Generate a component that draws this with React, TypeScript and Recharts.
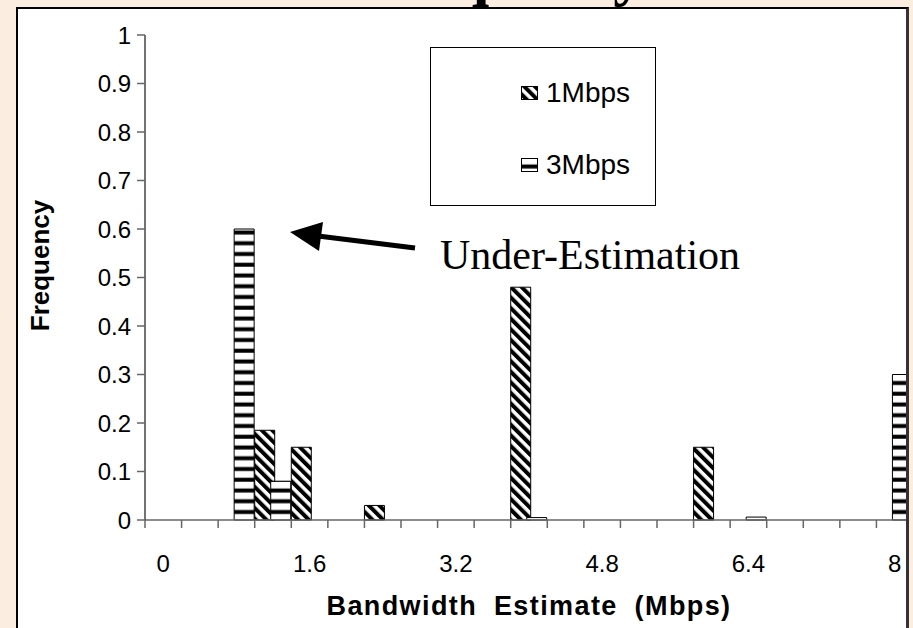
import { BarChart, Bar, XAxis, YAxis, Legend } from 'recharts'

// histogram bins (Mbps), width 0.4
const bins = ['0', '0.4', '0.8', '1.2', '1.6', '2', '2.4', '2.8', '3.2', '3.6', '4', '4.4', '4.8', '5.2', '5.6', '6', '6.4', '6.8', '7.2', '7.6', '8']
const freq1Mbps = [0, 0, 0, 0.185, 0.15, 0, 0.03, 0, 0, 0, 0.48, 0, 0, 0, 0, 0.15, 0, 0, 0, 0, 0]
const freq3Mbps = [0, 0, 0.6, 0.08, 0, 0, 0, 0, 0, 0, 0.005, 0, 0, 0, 0, 0, 0.006, 0, 0, 0, 0.3]
const yTicks = [0, 0.1, 0.2, 0.3, 0.4, 0.5, 0.6, 0.7, 0.8, 0.9, 1]
const labelEvery = 4

const data = bins.map((bin, i) => ({ bin, m1: freq1Mbps[i], m3: freq3Mbps[i] }))

const SANS = '"Liberation Sans", Arial, sans-serif'
const SERIF = '"Liberation Serif", "Times New Roman", serif'
const BEIGE = '#fbeee1'
const AXIS = '#666'

const CHART_W = 895
const CHART_H = 640
const Y_W = 127

function BinTick(props: any) {
  const { x, y, payload } = props
  const idx = props.index ?? payload.index ?? 0
  const half = payload.offset || (CHART_W - Y_W) / bins.length / 2
  return (
    <g>
      <line x1={x - half} x2={x - half} y1={y} y2={y + 8} stroke={AXIS} strokeWidth={1.5} />
      {idx % labelEvery === 0 && (
        <text x={x} y={y + 52} textAnchor="middle" fontSize={24} fontFamily={SANS} fill="#000">
          {payload.value}
        </text>
      )}
    </g>
  )
}

function YTitle(props: any) {
  const vb = props.viewBox || { x: 0, y: 26, width: Y_W, height: 485 }
  const cx = vb.x + 22
  const cy = vb.y + vb.height / 2 - 12
  return (
    <text x={cx} y={cy} transform={`rotate(-90 ${cx} ${cy})`} textAnchor="middle" dominantBaseline="central"
      fontFamily={SANS} fontSize={26} fontWeight="bold" fill="#000">
      Frequency
    </text>
  )
}

function LegendBox(props: any) {
  const items = props.payload || []
  return (
    <div style={{ position: 'relative', width: 226, height: 159, boxSizing: 'border-box', border: '1px solid #000', background: '#fff' }}>
      {items.map((it: any, i: number) => (
        <div key={it.value} style={{ position: 'absolute', left: 90, top: 29 + i * 72, height: 32, display: 'flex', alignItems: 'center', fontFamily: SANS, fontSize: 28, color: '#000' }}>
          <svg width={17} height={14} style={{ marginRight: 8 }}>
            <rect x={0.5} y={0.5} width={16} height={13} fill={it.color} stroke="#000" strokeWidth={1} />
          </svg>
          {it.value}
        </div>
      ))}
    </div>
  )
}

export default function App() {
  return (
    <div style={{ position: 'fixed', left: 0, top: 0, width: 913, height: 628, background: BEIGE, overflow: 'hidden' }}>
      <svg width={913} height={12} style={{ position: 'absolute', left: 0, top: 0 }}>
        <text x={363} y={-6} fontFamily={SERIF} fontWeight="bold" fontSize={62} fill="#000">Frequency</text>
      </svg>
      <div
        style={{
          position: 'absolute', left: 16, top: 7, width: 888, height: 640, background: '#fff',
          borderLeft: '2px solid #000', borderTop: '2px solid #000', borderRight: '3px solid #333', overflow: 'hidden',
        }}
      >
        <div style={{ position: 'absolute', left: 0, top: 0 }}>
          <BarChart
            width={CHART_W}
            height={CHART_H}
            data={data}
            margin={{ top: 26, right: 0, bottom: 29, left: 0 }}
            barSize={20}
            barGap={-4}
            barCategoryGap={0}
          >
            <defs>
              <pattern id="hatchDiag" patternUnits="userSpaceOnUse" width={7.5} height={7.5} patternTransform="rotate(-45)">
                <rect width={7.5} height={7.5} fill="#fff" />
                <rect width={4} height={7.5} fill="#000" />
              </pattern>
              <pattern id="hatchHoriz" patternUnits="userSpaceOnUse" width={10} height={10.75}>
                <rect width={10} height={10.75} fill="#fff" />
                <rect y={6.5} width={10} height={4} fill="#000" />
              </pattern>
            </defs>
            <XAxis
              dataKey="bin"
              interval={0}
              tickLine={false}
              tickSize={0}
              tickMargin={0}
              height={100}
              axisLine={{ stroke: AXIS, strokeWidth: 1.5 }}
              tick={<BinTick />}
              label={{
                value: 'Bandwidth Estimate (Mbps)', position: 'insideBottom', offset: 5,
                style: { fontFamily: SANS, fontSize: 27, fontWeight: 'bold', fill: '#000', letterSpacing: 1.4, wordSpacing: 8 },
              }}
            />
            <YAxis
              type="number"
              domain={[0, 1]}
              ticks={yTicks}
              interval={0}
              width={Y_W}
              tickSize={8}
              tickMargin={6}
              axisLine={{ stroke: '#444', strokeWidth: 1.5 }}
              tickLine={{ stroke: AXIS, strokeWidth: 1.5 }}
              tick={{ fill: '#000', fontSize: 24, fontFamily: SANS }}
              label={<YTitle />}
            />
            <Legend
              layout="horizontal"
              verticalAlign="middle"
              align="center"
              content={<LegendBox />}
              wrapperStyle={{ left: 412, top: 38, width: 226, height: 159 }}
            />
            <Bar dataKey="m1" name="1Mbps" fill="url(#hatchDiag)" stroke="#000" strokeWidth={1} isAnimationActive={false} />
            <Bar dataKey="m3" name="3Mbps" fill="url(#hatchHoriz)" stroke="#000" strokeWidth={1} isAnimationActive={false} />
          </BarChart>
        </div>
      </div>
      <svg width={913} height={628} style={{ position: 'absolute', left: 0, top: 0, pointerEvents: 'none' }}>
        <line x1={415} y1={248} x2={318} y2={236} stroke="#000" strokeWidth={5} />
        <polygon points="290,232 323,222 319,251" fill="#000" />
        <text x={440} y={269} fontFamily={SERIF} fontSize={42} fill="#000">Under-Estimation</text>
      </svg>
    </div>
  )
}
